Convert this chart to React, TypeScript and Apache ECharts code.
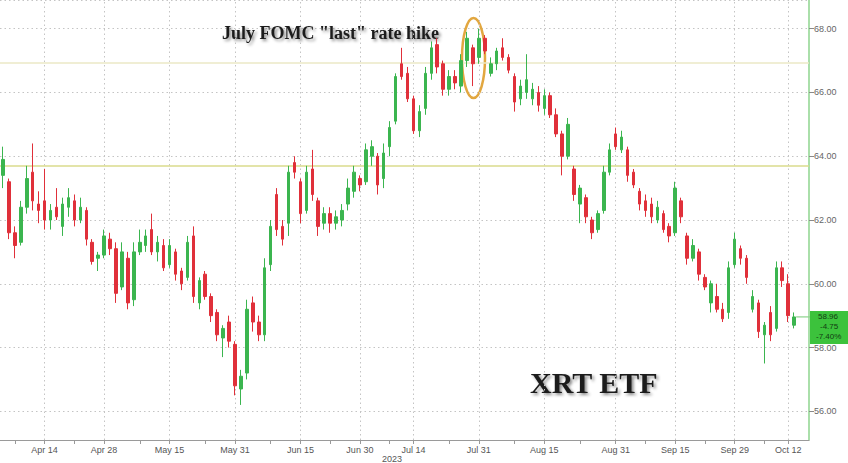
import React, { useEffect, useRef } from 'react';
import * as echarts from 'echarts';

// Trading days shown on the category axis (2023)
const aprDays = [4, 5, 6, 10, 11, 12, 13, 14, 17, 18, 19, 20, 21, 24, 25, 26, 27, 28];
const mayDays = [1, 2, 3, 4, 5, 8, 9, 10, 11, 12, 15, 16, 17, 18, 19, 22, 23, 24, 25, 26, 30, 31];
const junDays = [1, 2, 5, 6, 7, 8, 9, 12, 13, 14, 15, 16, 20, 21, 22, 23, 26, 27, 28, 29, 30];
const julDays = [3, 5, 6, 7, 10, 11, 12, 13, 14, 17, 18, 19, 20, 21, 24, 25, 26, 27, 28, 31];
const augDays = [1, 2, 3, 4, 7, 8, 9, 10, 11, 14, 15, 16, 17, 18, 21, 22, 23, 24, 25, 28, 29, 30, 31];
const sepDays = [1, 5, 6, 7, 8, 11, 12, 13, 14, 15, 18, 19, 20, 21, 22, 25, 26, 27, 28, 29];
const octDays = [2, 3, 4, 5, 6, 9, 10, 11, 12, 13, 16, 17];

const labelDates = ['Apr 14', 'Apr 28', 'May 15', 'May 31', 'Jun 15', 'Jun 30', 'Jul 14', 'Jul 31', 'Aug 15', 'Aug 31', 'Sep 15', 'Sep 29', 'Oct 12'];

// [open, high, low, close]
const ohlc: number[][] = [
  [63.4, 64.3, 63.0, 63.9], [63.2, 63.3, 61.4, 61.6], [61.6, 61.8, 60.8, 61.2], [61.3, 62.6, 61.2, 62.4],
  [62.4, 63.7, 62.2, 63.3], [63.5, 64.4, 62.3, 62.6], [62.5, 62.9, 61.9, 62.3], [62.6, 63.6, 61.7, 62.0],
  [62.0, 62.5, 61.7, 62.3], [62.4, 63.0, 62.0, 62.1], [61.8, 62.7, 61.5, 62.5], [62.4, 63.0, 62.1, 62.7],
  [62.6, 62.8, 61.8, 62.0], [62.0, 62.7, 61.9, 62.4], [62.3, 62.4, 61.2, 61.4], [61.3, 61.4, 60.6, 60.7],
  [60.8, 61.0, 60.4, 60.9], [60.9, 61.7, 60.8, 61.5], [61.4, 61.6, 60.9, 61.1], [61.1, 61.3, 59.4, 59.7],
  [59.9, 61.3, 59.8, 61.0], [60.8, 61.0, 59.2, 59.4], [59.5, 61.3, 59.3, 61.0], [61.0, 61.7, 60.9, 61.3],
  [61.2, 61.7, 61.0, 61.5], [61.7, 62.2, 60.9, 61.0], [61.0, 61.5, 60.7, 61.3], [61.2, 61.4, 60.4, 60.5],
  [60.6, 61.4, 60.5, 61.2], [61.0, 61.1, 60.1, 60.3], [60.4, 60.5, 59.8, 60.0], [60.2, 61.5, 60.1, 61.3],
  [61.5, 61.8, 59.4, 59.6], [59.4, 60.2, 59.2, 60.1], [60.3, 60.4, 59.5, 59.6], [59.6, 59.7, 58.8, 59.0],
  [59.1, 59.2, 58.2, 58.4], [58.3, 58.7, 57.7, 58.6], [58.8, 59.0, 58.0, 58.2], [58.1, 58.2, 56.5, 56.8],
  [56.7, 57.3, 56.2, 57.1], [57.2, 59.5, 57.0, 59.2], [59.4, 59.6, 58.5, 58.8], [58.8, 59.0, 58.2, 58.4],
  [58.4, 60.8, 58.2, 60.5], [60.6, 62.0, 60.4, 61.8], [62.8, 63.0, 61.5, 61.7], [61.8, 62.0, 61.2, 61.4],
  [61.9, 63.7, 61.5, 63.5], [63.8, 64.0, 63.3, 63.5], [63.2, 63.3, 61.9, 62.2], [62.3, 63.7, 62.2, 63.5],
  [63.6, 64.2, 62.6, 62.8], [62.6, 62.7, 61.5, 61.8], [61.9, 62.4, 61.7, 62.2], [62.2, 62.4, 61.6, 61.9],
  [61.9, 62.3, 61.7, 62.1], [62.0, 62.5, 61.8, 62.3], [62.5, 63.3, 62.3, 63.0], [62.9, 63.7, 62.7, 63.5],
  [63.3, 63.4, 62.9, 63.1], [63.2, 64.4, 63.1, 64.2], [64.0, 64.5, 63.7, 64.3], [64.0, 64.1, 62.8, 63.1],
  [63.3, 64.4, 63.0, 64.1], [64.3, 65.1, 64.0, 64.9], [65.1, 66.6, 65.0, 66.5], [66.9, 67.4, 66.4, 66.5],
  [66.6, 66.8, 65.7, 65.8], [65.8, 65.9, 64.7, 64.8], [64.8, 65.6, 64.6, 65.4], [65.5, 66.8, 65.3, 66.6],
  [66.6, 67.6, 66.4, 67.4], [67.5, 67.7, 66.6, 66.8], [66.9, 67.0, 65.9, 66.1], [66.1, 66.7, 65.9, 66.5],
  [66.5, 66.7, 66.1, 66.3], [66.2, 67.2, 66.0, 67.0], [67.0, 67.9, 66.8, 67.7], [67.4, 67.5, 66.2, 66.9],
  [67.1, 68.0, 66.9, 67.7], [67.7, 67.8, 67.2, 67.3], [66.6, 67.1, 66.5, 66.9], [66.9, 67.4, 66.7, 67.3],
  [67.4, 67.7, 67.0, 67.1], [67.1, 67.2, 66.6, 66.7], [66.5, 66.6, 65.4, 65.7], [65.8, 66.4, 65.6, 66.2],
  [66.0, 67.2, 65.8, 66.4], [65.8, 66.3, 65.6, 66.1], [66.0, 66.2, 65.4, 65.6], [65.5, 66.1, 65.3, 65.9],
  [65.9, 66.0, 65.2, 65.3], [65.3, 65.5, 64.6, 64.7], [64.7, 64.8, 63.4, 64.0], [64.0, 65.2, 63.9, 65.0],
  [63.6, 63.7, 62.6, 62.8], [62.5, 63.1, 61.9, 63.0], [62.7, 62.8, 61.9, 62.1], [62.0, 62.1, 61.4, 61.6],
  [61.7, 62.3, 61.6, 62.2], [62.3, 63.7, 62.2, 63.5], [63.5, 64.4, 63.4, 64.2], [64.7, 64.9, 64.2, 64.3],
  [64.2, 64.8, 64.1, 64.6], [64.2, 64.3, 63.2, 63.4], [63.5, 63.6, 63.0, 63.1], [62.9, 63.0, 62.3, 62.5],
  [62.6, 62.8, 62.1, 62.3], [62.5, 62.7, 61.9, 62.1], [62.0, 62.6, 61.9, 62.4], [62.2, 62.3, 61.6, 61.7],
  [61.8, 61.9, 61.3, 61.5], [61.6, 63.2, 61.5, 63.0], [62.6, 62.7, 61.9, 62.1], [61.5, 61.6, 60.6, 60.8],
  [60.8, 61.4, 60.7, 61.2], [61.0, 61.1, 60.1, 60.3], [60.2, 60.3, 59.8, 59.9], [59.4, 60.1, 59.1, 60.0],
  [59.6, 60.0, 59.1, 59.2], [59.2, 59.4, 58.8, 58.9], [59.1, 60.7, 58.9, 60.5], [60.6, 61.6, 60.5, 61.4],
  [61.1, 61.2, 60.6, 60.8], [60.8, 60.9, 60.0, 60.2], [59.2, 59.8, 59.1, 59.6], [59.4, 59.5, 58.3, 58.5],
  [58.4, 58.8, 57.5, 58.7], [59.1, 59.3, 58.2, 58.4], [58.6, 60.7, 58.5, 60.5], [60.5, 60.7, 59.9, 60.1],
  [60.0, 60.3, 58.8, 59.0], [58.7, 59.1, 58.6, 58.96],
];

const lastChange = '-4.75';
const lastChangePct = '-7.40%';
const refLevels = [66.93, 63.71];

const monthGroups: [string, number[]][] = [
  ['Apr', aprDays], ['May', mayDays], ['Jun', junDays], ['Jul', julDays],
  ['Aug', augDays], ['Sep', sepDays], ['Oct', octDays],
];

export default function App() {
  const ref = useRef<HTMLDivElement>(null);

  useEffect(() => {
    if (!ref.current) return;
    const chart = echarts.init(ref.current, undefined, { renderer: 'svg' });

    const categories: string[] = [];
    monthGroups.forEach(([m, days]) => days.forEach((d) => categories.push(`${m} ${d}`)));

    const labelIdx = labelDates.map((d) => categories.indexOf(d));
    const tickSet = new Set<number>(labelIdx);
    for (let k = 0; k < labelIdx.length - 1; k++) {
      tickSet.add(Math.round((labelIdx[k] + labelIdx[k + 1]) / 2));
    }
    tickSet.add(labelIdx[0] - 5);
    const labelSet = new Set<number>(labelIdx);

    const gridColor = '#c4c4c4';
    const dot = [1.5, 3];

    const option: any = {
      animation: false,
      backgroundColor: '#ffffff',
      grid: { left: 0, right: 39, top: 0, bottom: 23 },
      xAxis: {
        type: 'category',
        data: categories,
        boundaryGap: true,
        axisLine: { show: true, lineStyle: { color: '#9a9a9a', width: 1 } },
        axisTick: {
          show: true,
          alignWithLabel: true,
          length: 4,
          interval: (i: number) => tickSet.has(i),
          lineStyle: { color: '#9a9a9a' },
        },
        axisLabel: {
          interval: (i: number) => labelSet.has(i),
          fontSize: 9,
          color: '#555555',
          margin: 5,
          fontFamily: 'Liberation Sans',
        },
        splitLine: { show: false },
      },
      yAxis: {
        type: 'value',
        position: 'right',
        min: 55.1,
        max: 68.9,
        splitNumber: 7,
        minInterval: 2,
        maxInterval: 2,
        axisLine: { show: true, lineStyle: { color: '#8ed48e', width: 1.5 } },
        axisTick: { show: true, length: 5, lineStyle: { color: '#8a8a8a' } },
        axisLabel: {
          fontSize: 9,
          color: '#666666',
          margin: 5,
          fontFamily: 'Liberation Sans',
          showMinLabel: false,
          showMaxLabel: false,
          formatter: (v: number) => v.toFixed(2),
        },
        splitLine: { show: true, lineStyle: { color: gridColor, type: dot, width: 1 } },
      },
      series: [
        {
          type: 'candlestick',
          data: ohlc.map(([o, h, l, c]) => [o, c, l, h]),
          barWidth: 3,
          itemStyle: {
            color: '#3bb54f',
            color0: '#e0303a',
            borderColor: '#3bb54f',
            borderColor0: '#e0303a',
            borderWidth: 1,
          },
          markLine: {
            silent: true,
            symbol: 'none',
            z: 1,
            label: { show: false },
            data: [
              ...labelDates.map((d) => ({ xAxis: d, lineStyle: { color: gridColor, type: dot, width: 1 } })),
              { yAxis: refLevels[0], lineStyle: { color: '#ebe8c6', type: 'solid', width: 1.5 } },
              { yAxis: refLevels[1], lineStyle: { color: '#dadb8c', type: 'solid', width: 1.5 } },
            ],
          },
        },
      ],
    };
    chart.setOption(option);

    const lastIdx = ohlc.length - 1;
    const lastClose = ohlc[lastIdx][3];
    const pt = chart.convertToPixel({ seriesIndex: 0 }, [lastIdx, lastClose]) as number[];
    const px = pt[0];
    const py = pt[1];

    chart.setOption({
      graphic: [
        {
          type: 'line',
          shape: { x1: px + 2, y1: py, x2: 810, y2: py },
          style: { stroke: '#74c974', lineWidth: 1 },
        },
        {
          type: 'rect',
          shape: { x: 810, y: py - 6, width: 38, height: 33 },
          style: { fill: '#3cc23c' },
        },
        {
          type: 'text', x: 818, y: py,
          style: { text: lastClose.toFixed(2), fontSize: 8, fontFamily: 'Liberation Sans', fill: '#123d12', textVerticalAlign: 'middle' },
        },
        {
          type: 'text', x: 820, y: py + 10,
          style: { text: lastChange, fontSize: 8, fontFamily: 'Liberation Sans', fill: '#123d12', textVerticalAlign: 'middle' },
        },
        {
          type: 'text', x: 816, y: py + 20,
          style: { text: lastChangePct, fontSize: 8, fontFamily: 'Liberation Sans', fill: '#123d12', textVerticalAlign: 'middle' },
        },
        {
          type: 'text', x: 392, y: 459,
          style: { text: '2023', fontSize: 9, fontFamily: 'Liberation Sans', fill: '#555555', textAlign: 'center', textVerticalAlign: 'middle' },
        },
        {
          type: 'text', x: 222, y: 33,
          style: {
            text: 'July FOMC "last" rate hike',
            fontSize: 18, fontWeight: 'bold', fontFamily: 'Liberation Serif',
            fill: '#1c1c1c', textVerticalAlign: 'middle',
            textShadowColor: 'rgba(0,0,0,0.45)', textShadowBlur: 3, textShadowOffsetX: 2, textShadowOffsetY: 2,
          },
        },
        {
          type: 'text', x: 530, y: 382,
          style: {
            text: 'XRT ETF',
            fontSize: 30, fontWeight: 'bold', fontFamily: 'Liberation Serif',
            fill: '#1c1c1c', textVerticalAlign: 'middle',
            textShadowColor: 'rgba(0,0,0,0.45)', textShadowBlur: 3, textShadowOffsetX: 2, textShadowOffsetY: 2,
          },
        },
        {
          type: 'ellipse',
          shape: { cx: 473.5, cy: 58, rx: 11.5, ry: 40 },
          style: { fill: 'none', stroke: '#e2a740', lineWidth: 2.5 },
        },
      ],
    });

    return () => chart.dispose();
  }, []);

  return <div ref={ref} style={{ position: 'fixed', left: 0, top: 0, width: 848, height: 463 }} />;
}
